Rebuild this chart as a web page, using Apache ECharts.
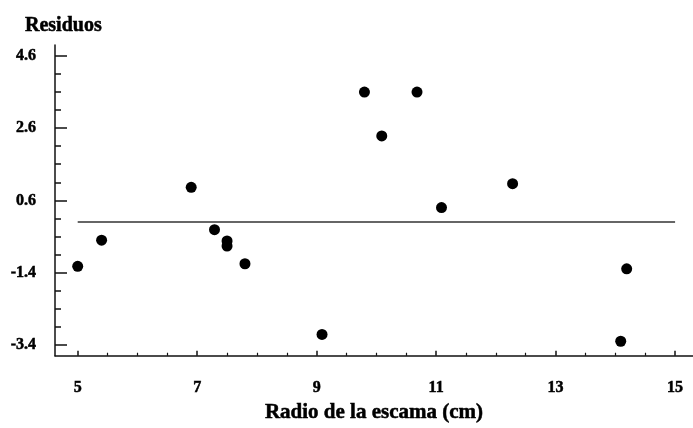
<!DOCTYPE html>
<html>
<head>
<meta charset="utf-8">
<script src="https://cdn.jsdelivr.net/npm/echarts@6/dist/echarts.min.js"></script>
<style>html,body{margin:0;padding:0;background:#fff}#c{width:693px;height:428px}</style>
</head>
<body>
<div id="c"></div>
<script>
var radio = [5.0, 5.4, 6.9, 7.29, 7.5, 7.5, 7.8, 9.09, 9.8, 10.09, 10.68, 11.09, 12.28, 14.09, 14.19];
var residuos = [-1.22, -0.5, 0.96, -0.21, -0.52, -0.66, -1.15, -3.1, 3.59, 2.38, 3.59, 0.4, 1.06, -3.29, -1.29];
var refLineX = [5, 15];
var refLineY = [0, 0];
var xMajorTicks = [5, 7, 9, 11, 13, 15];
var xMinorTicks = [5.5, 6, 6.5, 7.5, 8, 8.5, 9.5, 10, 10.5, 11.5, 12, 12.5, 13.5, 14, 14.5];
var yMajorTicks = [-3.4, -1.4, 0.6, 2.6, 4.6];
var yMinorTicks = [-2.9, -2.4, -1.9, -0.9, -0.4, 0.1, 1.1, 1.6, 2.1, 3.1, 3.6, 4.1];
var xName = 'Radio de la escama (cm)';
var yName = 'Residuos';

var font = 'Liberation Serif';
var heavy = { textBorderColor: '#000', textBorderWidth: 0.5 };
var chart = echarts.init(document.getElementById('c'));
var xMin = 4.62, xMax = 15.3, yMin = -3.69, yMax = 4.89;
chart.setOption({
  animation: false,
  backgroundColor: '#fff',
  title: {
    text: yName, left: 20, top: 11,
    textStyle: Object.assign({ fontFamily: font, fontWeight: 'bold', fontSize: 20, color: '#000' }, heavy)
  },
  grid: { left: 55, right: 0, top: 45, bottom: 72 },
  xAxis: [{
    type: 'value', min: xMin, max: xMax,
    name: xName, nameLocation: 'middle', nameGap: 46,
    nameTextStyle: Object.assign({ fontFamily: font, fontWeight: 'bold', fontSize: 21, color: '#000' }, heavy),
    axisLine: { show: true, onZero: false, lineStyle: { color: '#111', width: 1.5 } },
    axisTick: { show: true, inside: true, length: 5, customValues: xMajorTicks, lineStyle: { color: '#111', width: 1.5 } },
    axisLabel: Object.assign({ customValues: xMajorTicks, margin: 24, fontFamily: font, fontWeight: 'bold', fontSize: 16, color: '#000' }, heavy),
    splitLine: { show: false }
  }, {
    type: 'value', min: xMin, max: xMax, position: 'bottom',
    axisLine: { show: false, onZero: false },
    axisTick: { show: true, inside: true, length: 3, customValues: xMinorTicks, lineStyle: { color: '#111', width: 1.2 } },
    axisLabel: { show: false },
    splitLine: { show: false }
  }],
  yAxis: [{
    type: 'value', min: yMin, max: yMax,
    axisLine: { show: true, onZero: false, lineStyle: { color: '#111', width: 1.5 } },
    axisTick: { show: true, inside: true, length: 12, customValues: yMajorTicks, lineStyle: { color: '#111', width: 1.5 } },
    axisLabel: Object.assign({ customValues: yMajorTicks, margin: 19, fontFamily: font, fontWeight: 'bold', fontSize: 16, color: '#000',
      formatter: function (v) { return v.toFixed(1); } }, heavy),
    splitLine: { show: false }
  }, {
    type: 'value', min: yMin, max: yMax, position: 'left',
    axisLine: { show: false, onZero: false },
    axisTick: { show: true, inside: true, length: 6, customValues: yMinorTicks, lineStyle: { color: '#111', width: 1.5 } },
    axisLabel: { show: false },
    splitLine: { show: false }
  }],
  series: [{
    type: 'line',
    data: refLineX.map(function (x, i) { return [x, refLineY[i]]; }),
    symbol: 'none',
    lineStyle: { color: '#333', width: 1.5 },
    z: 1
  }, {
    type: 'scatter',
    data: radio.map(function (x, i) { return [x, residuos[i]]; }),
    symbol: 'circle', symbolSize: 11,
    itemStyle: { color: '#000', opacity: 1 },
    z: 2
  }]
});
</script>
</body>
</html>
